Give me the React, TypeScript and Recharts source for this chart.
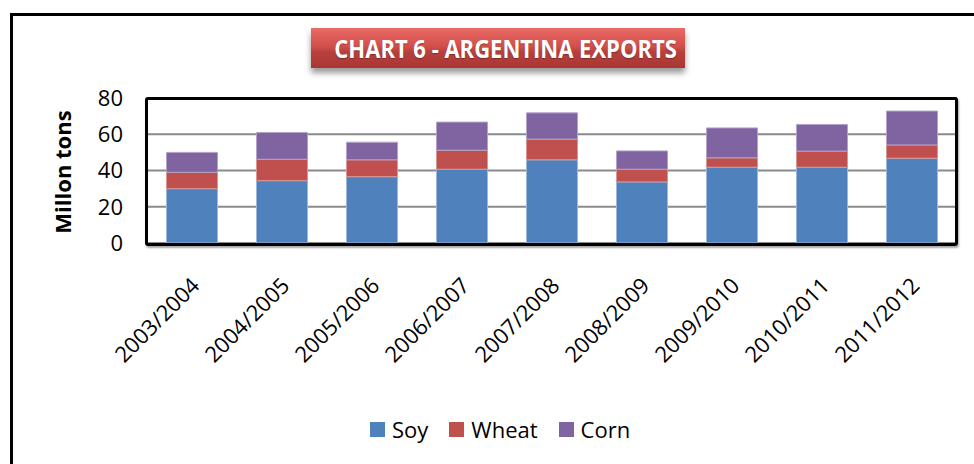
import React from 'react';
import { BarChart, Bar, XAxis, YAxis, CartesianGrid, Legend } from 'recharts';

const years = ['2003/2004', '2004/2005', '2005/2006', '2006/2007', '2007/2008', '2008/2009', '2009/2010', '2010/2011', '2011/2012'];
const soy = [30, 34.4, 36.6, 40.7, 45.9, 33.7, 41.8, 41.8, 46.8];
const wheat = [9, 11.8, 9.3, 10.5, 11.4, 7, 5.2, 8.9, 7.3];
const corn = [11, 14.8, 9.7, 15.5, 14.5, 10.1, 16.5, 14.7, 18.7];
const yTicks = [0, 20, 40, 60, 80];
const seriesOrder = ['Soy', 'Wheat', 'Corn'];

const data = years.map((y, i) => ({ year: y, Soy: soy[i], Wheat: wheat[i], Corn: corn[i] }));

const FONT = '"Open Sans", sans-serif';

const XTick = (props: any) => {
  const { x, y, payload } = props;
  const ax = x + 9;
  const ay = y + 44;
  return (
    <text x={ax} y={ay} transform={`rotate(-45, ${ax}, ${ay})`} textAnchor="end" fontSize={22} fontFamily={FONT} fill="#000">
      {payload.value}
    </text>
  );
};

const renderLegend = (props: any) => {
  const payload = [...(props.payload || [])].sort(
    (a: any, b: any) => seriesOrder.indexOf(a.value) - seriesOrder.indexOf(b.value)
  );
  return (
    <div style={{ display: 'flex', alignItems: 'center', height: 30, fontFamily: FONT, fontSize: 22, color: '#000' }}>
      {payload.map((p: any) => (
        <div key={p.value} style={{ display: 'flex', alignItems: 'center', marginRight: 21 }}>
          <div style={{ width: 15, height: 15, background: p.color, marginRight: 7 }} />
          <span style={{ lineHeight: '30px' }}>{p.value}</span>
        </div>
      ))}
    </div>
  );
};

export default function App() {
  return (
    <div style={{ position: 'absolute', left: 0, top: 0, width: 974, height: 464, overflow: 'hidden', background: '#fff', fontFamily: FONT }}>
      <div style={{ position: 'absolute', left: 10, top: 13, width: 1000, height: 500, border: '3.5px solid #000', boxSizing: 'border-box' }} />
      <div style={{ position: 'absolute', left: 0, top: 0 }}>
        <BarChart width={974} height={464} data={data} margin={{ top: 98, right: 17, left: 67, bottom: 20 }} barCategoryGap="21.7%">
          <CartesianGrid vertical={false} stroke="#8a8a8a" strokeWidth={2} />
          <XAxis dataKey="year" height={171} tickLine={false} axisLine={false} tickSize={0} tickMargin={0} interval={0} tick={<XTick />} />
          <YAxis width={80} domain={[0, 80]} ticks={yTicks} tickLine={false} axisLine={false} tickSize={0} tickMargin={24}
            tick={{ fontSize: 22, fontFamily: FONT, fill: '#000' }} />
          <Legend content={renderLegend} wrapperStyle={{ top: 414, left: 370, width: 'auto' }} />
          <Bar dataKey="Soy" stackId="a" fill="#4F81BD" stroke="#9db7dc" strokeWidth={1} isAnimationActive={false} />
          <Bar dataKey="Wheat" stackId="a" fill="#C0504D" stroke="#d99694" strokeWidth={1} isAnimationActive={false} />
          <Bar dataKey="Corn" stackId="a" fill="#8064A2" stroke="#b3a2c7" strokeWidth={1} isAnimationActive={false} />
        </BarChart>
      </div>
      <div style={{ position: 'absolute', left: 145, top: 96.5, width: 813, height: 149, border: '3.5px solid #000', borderRadius: 3, boxSizing: 'border-box', boxShadow: '1px 2px 2px rgba(0,0,0,0.35)', pointerEvents: 'none' }} />
      <div style={{ position: 'absolute', left: 62 - 80, top: 172 - 15, width: 160, height: 30, lineHeight: '30px', textAlign: 'center', transform: 'rotate(-90deg)', fontWeight: 700, fontSize: 22, color: '#000' }}>
        Millon tons
      </div>
      <div style={{ position: 'absolute', left: 311, top: 28, width: 374, height: 40, lineHeight: '40px', textAlign: 'center', color: '#fff', fontWeight: 700, background: 'linear-gradient(#ea6a66 0%, #d2504c 45%, #b8403c 60%, #a93633 100%)', boxShadow: '0 5px 6px rgba(0,0,0,0.4)', textShadow: '0 1px 1px rgba(0,0,0,0.3)', whiteSpace: 'nowrap', overflow: 'visible' }}>
        <span style={{ display: 'inline-block', fontSize: 25, transform: 'scaleX(0.88)', transformOrigin: 'center' }}>CHART 6 - ARGENTINA EXPORTS</span>
      </div>
    </div>
  );
}
